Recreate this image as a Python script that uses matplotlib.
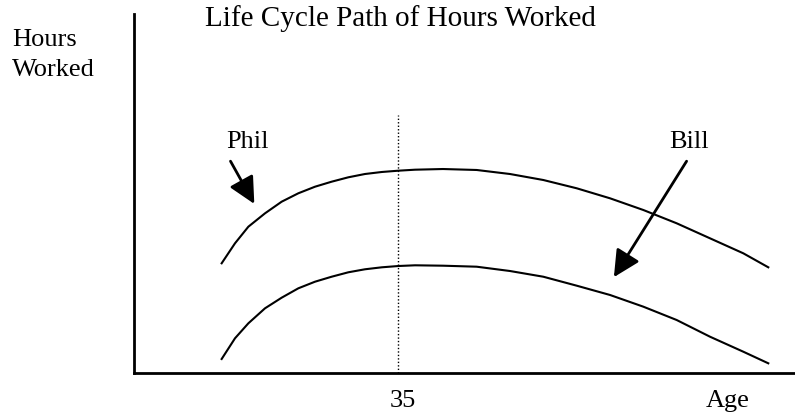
import matplotlib
matplotlib.use("Agg")
import matplotlib.pyplot as plt

plt.rcParams['font.family'] = ['Liberation Serif', 'DejaVu Serif']

# Data (age vs. relative hours worked, 0-100 scale)
ages = [21.63, 22.64, 23.65, 24.91, 26.17, 27.43, 28.69, 29.95, 31.21, 32.47, 33.74, 34.99,
        36.26, 38.37, 40.92, 43.44, 45.96, 48.49, 51.01, 53.53, 56.05, 58.57, 61.09, 62.98]
phil_hours = [30.56, 36.13, 40.75, 44.48, 47.72, 50.06, 51.89, 53.29, 54.51, 55.43, 55.99, 56.35,
              56.63, 56.82, 56.55, 55.43, 53.76, 51.45, 48.66, 45.40, 41.70, 37.52, 33.34, 29.44]
bill_hours = [3.90, 9.67, 13.84, 18.02, 20.98, 23.59, 25.43, 26.82, 28.05, 28.89, 29.44, 29.80,
              30.00, 29.89, 29.61, 28.41, 26.82, 24.32, 21.73, 18.47, 14.76, 10.11, 5.93, 2.70]
marker_age = 35
marker_top = 72

W, H = 795, 417
fig = plt.figure(figsize=(W / 100, H / 100), dpi=100)
ax = fig.add_axes([134 / W, (H - 373) / H, (W - 134) / W, (373 - 14) / H])
ax.set_xlim(15, 65)
ax.set_ylim(0, 100)

ax.plot(ages, phil_hours, color='black', lw=1.5, solid_joinstyle='round')
ax.plot(ages, bill_hours, color='black', lw=1.5, solid_joinstyle='round')
ax.plot([marker_age, marker_age], [0, marker_top], color='black', lw=1.0, ls=(0, (1, 1.5)))

for s in ['top', 'right']:
    ax.spines[s].set_visible(False)
for s in ['left', 'bottom']:
    ax.spines[s].set_linewidth(2.0)
ax.set_xticks([])
ax.set_yticks([])

fs = 19
ax.annotate('', xy=(24.1, 47.1), xytext=(22.3, 59.0),
            arrowprops=dict(arrowstyle='-|>,head_length=0.9,head_width=0.45', color='black', lw=2.0,
                            shrinkA=0, shrinkB=0, mutation_scale=18))
ax.annotate('', xy=(51.3, 26.7), xytext=(56.8, 59.0),
            arrowprops=dict(arrowstyle='-|>,head_length=0.9,head_width=0.45', color='black', lw=2.0,
                            shrinkA=0, shrinkB=0, mutation_scale=18))

def ft(x, y, s, size=fs, **kw):
    fig.text(x / W, 1 - y / H, s, fontsize=size, **kw)

ft(400, 19, 'Life Cycle Path of Hours Worked', size=21, ha='center', va='center')
ft(12, 40, 'Hours', ha='left', va='center')
ft(12, 70, 'Worked', ha='left', va='center')
ft(247, 142, 'Phil', ha='center', va='center')
ft(689, 142, 'Bill', ha='center', va='center')
ft(403, 401, '35', ha='center', va='center')
ft(728, 401, 'Age', ha='center', va='center')

fig.savefig('out.png', dpi=100)
